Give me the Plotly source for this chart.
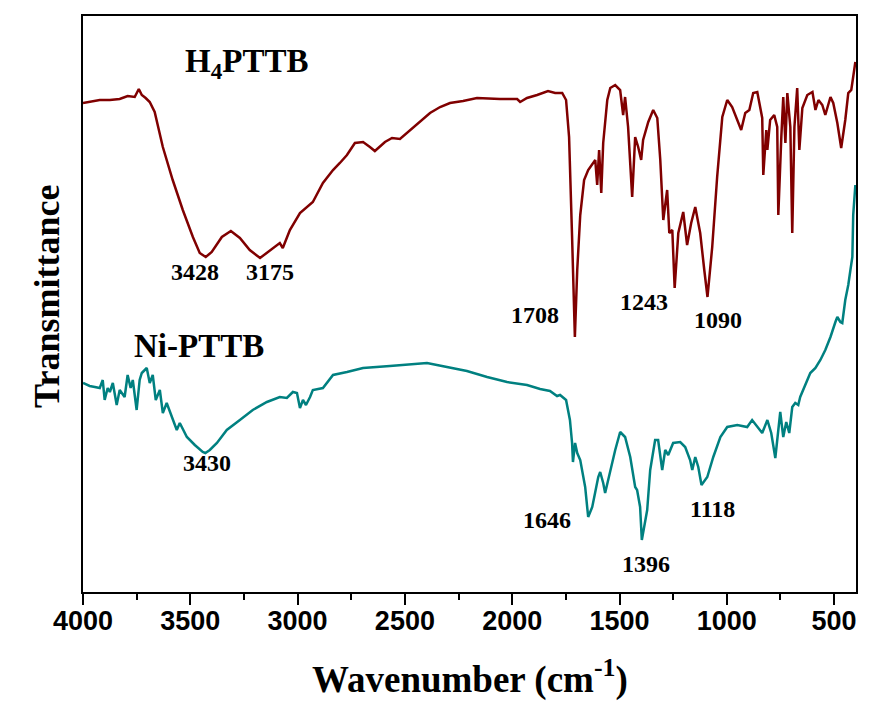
import plotly.graph_objects as go

# H4PTTB spectrum (wavenumber cm-1, transmittance a.u.)
h4_wn = [4000, 3922, 3875, 3829, 3792, 3759, 3740, 3726, 3708, 3689, 3666, 3628, 3582, 3535,
         3488, 3456, 3428, 3400, 3353, 3311, 3269, 3223, 3175, 3139, 3106, 3083, 3069, 3055,
         3036, 2989, 2929, 2882, 2835, 2803, 2770, 2733, 2695, 2663, 2640, 2593, 2560, 2523,
         2476, 2430, 2383, 2336, 2290, 2229, 2164, 2057, 1977, 1963, 1931, 1884, 1833, 1800,
         1767, 1749, 1735, 1721, 1708, 1697, 1683, 1665, 1646, 1613, 1604, 1595, 1585, 1576,
         1557, 1543, 1520, 1497, 1483, 1474, 1460, 1441, 1427, 1413, 1399, 1390, 1366, 1343,
         1324, 1310, 1296, 1278, 1268, 1254, 1243, 1226, 1203, 1185, 1166, 1147, 1124, 1105,
         1090, 1068, 1045, 1021, 998, 975, 951, 933, 914, 895, 877, 858, 835, 830, 816, 811,
         798, 779, 765, 760, 746, 737, 727, 718, 704, 695, 685, 672, 662, 648, 625, 601, 587,
         573, 555, 541, 517, 504, 485, 467, 448, 434, 420, 411, 401]
h4_t = [489, 492, 492, 493, 496, 495, 503, 497, 494, 490, 480, 445, 412, 382,
        355, 339, 335, 340, 355, 361, 354, 342, 334, 340, 345, 349, 344, 352,
        362, 379, 390, 409, 422, 429, 437, 449, 450, 445, 441, 450, 454, 453,
        462, 470, 479, 485, 489, 491, 494, 493, 493, 490, 494, 497, 501, 499,
        499, 492, 455, 355, 255, 322, 377, 412, 422, 432, 407, 442, 399, 449,
        492, 504, 507, 502, 477, 495, 465, 395, 455, 445, 432, 452, 470, 482,
        474, 432, 372, 402, 359, 362, 304, 359, 380, 347, 369, 385, 359, 322,
        295, 345, 415, 475, 492, 485, 472, 462, 479, 482, 499, 500, 474, 417, 462, 442,
        472, 477, 465, 377, 455, 495, 449, 499, 465, 359, 465, 504, 442, 484, 497, 500, 482,
        492, 487, 477, 495, 489, 469, 444, 472, 499, 502, 515, 530]

# Ni-PTTB spectrum
ni_wn = [4000, 3969, 3945, 3922, 3908, 3899, 3885, 3875, 3861, 3843, 3829, 3806, 3792, 3778,
         3768, 3750, 3736, 3726, 3703, 3689, 3675, 3661, 3642, 3628, 3610, 3586, 3563, 3549,
         3516, 3479, 3442, 3430, 3409, 3376, 3330, 3269, 3209, 3143, 3083, 3050, 3022, 3003,
         2989, 2975, 2961, 2942, 2929, 2882, 2835, 2770, 2695, 2570, 2462, 2397, 2304, 2211,
         2117, 2024, 1931, 1870, 1824, 1791, 1777, 1749, 1740, 1731, 1721, 1717, 1707, 1697,
         1683, 1660, 1646, 1627, 1613, 1599, 1590, 1576, 1567, 1543, 1520, 1497, 1474, 1450,
         1427, 1418, 1404, 1396, 1371, 1357, 1334, 1320, 1301, 1287, 1273, 1250, 1217, 1194,
         1171, 1161, 1147, 1133, 1118, 1091, 1063, 1030, 998, 951, 905, 882, 858, 835, 811,
         793, 774, 760, 751, 737, 723, 709, 695, 681, 667, 658, 634, 611, 587, 564, 541, 517,
         494, 485, 471, 462, 448, 434, 424, 415, 411, 401]
ni_t = [209, 206, 205, 204, 212, 192, 204, 200, 209, 187, 202, 195, 217, 204,
        212, 182, 212, 219, 224, 209, 217, 192, 202, 179, 189, 175, 162, 169,
        155, 147, 140, 139, 142, 149, 162, 172, 182, 190, 195, 194, 200, 199,
        184, 192, 187, 195, 202, 204, 217, 220, 224, 226, 228, 229, 225, 221,
        215, 210, 207, 203, 201, 196, 197, 192, 182, 172, 149, 130, 149, 139,
        132, 105, 75, 85, 100, 115, 120, 109, 99, 122, 142, 160, 155, 135,
        105, 102, 85, 52, 82, 122, 152, 152, 122, 142, 137, 149, 150, 145,
        132, 122, 135, 125, 107, 115, 135, 155, 165, 167, 165, 172, 165, 159, 172,
        159, 134, 162, 180, 155, 170, 159, 185, 189, 187, 195, 207, 219, 224, 232, 242, 255,
        270, 275, 270, 269, 292, 307, 322, 335, 377, 407]

# Peak labels
h4_labels = ["3428", "3175", "1708", "1243", "1090"]
ni_labels = ["3430", "1646", "1396", "1118"]
series_names = ["H<sub>4</sub>PTTB", "Ni-PTTB"]

RED = "#800000"
TEAL = "#008080"
SERIF = "Liberation Serif, Times New Roman, serif"
SANS = "Liberation Sans, Arial, sans-serif"

fig = go.Figure()
fig.add_trace(go.Scatter(x=h4_wn, y=h4_t, mode="lines", line=dict(color=RED, width=2.5),
                         showlegend=False, hoverinfo="skip"))
fig.add_trace(go.Scatter(x=ni_wn, y=ni_t, mode="lines", line=dict(color=TEAL, width=2.5),
                         showlegend=False, hoverinfo="skip"))

label_pos = {
    "3428": (3479, 320), "3175": (3129, 320), "1708": (1893, 277),
    "1243": (1385, 290), "1090": (1040, 272),
    "3430": (3422, 129), "1646": (1837, 72), "1396": (1376, 28), "1118": (1068, 83),
}
for t in h4_labels + ni_labels:
    x, y = label_pos[t]
    fig.add_annotation(x=x, y=y, xref="x", yref="y", text=t, showarrow=False,
                       xanchor="center", yanchor="middle",
                       font=dict(family=SERIF, size=24, color="black", weight="bold"))

fig.add_annotation(x=3237, y=529, xref="x", yref="y", text=series_names[0], showarrow=False,
                   xanchor="center", yanchor="middle",
                   font=dict(family=SERIF, size=33, color="black", weight="bold"))
fig.add_annotation(x=3460, y=246, xref="x", yref="y", text=series_names[1], showarrow=False,
                   xanchor="center", yanchor="middle",
                   font=dict(family=SERIF, size=33, color="black", weight="bold"))

# axis titles
fig.add_annotation(x=0.5006, y=-0.148, xref="paper", yref="paper",
                   xanchor="center", yanchor="middle",
                   text="Wavenumber (cm<sup>-1</sup>)", showarrow=False,
                   font=dict(family=SERIF, size=37, color="black", weight="bold"))
fig.add_annotation(x=-0.0466, y=0.514, xref="paper", yref="paper", textangle=-90,
                   xanchor="center", yanchor="middle",
                   text="Transmittance", showarrow=False,
                   font=dict(family=SERIF, size=36, color="black", weight="bold"))

fig.update_layout(
    width=891, height=707,
    margin=dict(l=83, r=35, t=16, b=115),
    paper_bgcolor="white", plot_bgcolor="white",
    xaxis=dict(range=[4000, 398], showgrid=False, zeroline=False,
               showline=True, linecolor="black", linewidth=2, mirror=True,
               ticks="outside", ticklen=11, tickwidth=2, tickcolor="black",
               tick0=0, dtick=500, ticklabelstandoff=-7,
               minor=dict(ticks="outside", ticklen=6, tickwidth=2, tickcolor="black", dtick=250),
               tickfont=dict(family=SANS, size=27, color="black", weight="bold")),
    yaxis=dict(range=[0, 576], showgrid=False, zeroline=False, showticklabels=False,
               showline=True, linecolor="black", linewidth=2, mirror=True, ticks=""),
)

fig.write_html("out.html")
